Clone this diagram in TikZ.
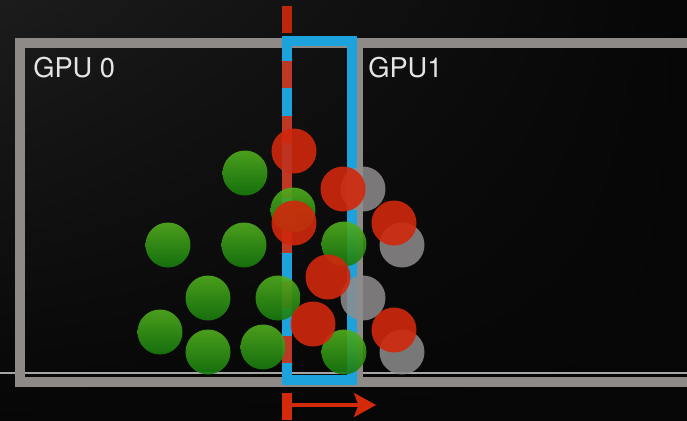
\documentclass[tikz,border=0pt]{standalone}
\usepackage{fontspec}
\setmainfont{TeX Gyre Heros}
\usetikzlibrary{arrows.meta,shadings}
\definecolor{bgdark}{HTML}{060606}
\definecolor{bglight}{HTML}{1C1C1C}
\definecolor{framegray}{HTML}{8E8A88}
\definecolor{thingray}{HTML}{A8A6A4}
\definecolor{haloblue}{HTML}{1CA2DC}
\definecolor{cutred}{HTML}{D42A0C}
\definecolor{greentop}{HTML}{52AE1E}
\definecolor{greenbot}{HTML}{177A0E}
\definecolor{ballred}{HTML}{D0280C}
\definecolor{ballgray}{HTML}{8E8C8C}
\definecolor{labeltext}{HTML}{E4E4E4}
\tikzset{
  ball/.style={circle,minimum size=0.9cm,inner sep=0pt,fill opacity=0.9},
  greenball/.style={ball,top color=greentop,bottom color=greenbot},
  redball/.style={ball,fill=ballred},
  grayball/.style={ball,fill=ballgray,fill opacity=0.85},
  gpulabel/.style={anchor=base west,inner sep=0pt,text=labeltext,font=\fontsize{15.5}{18}\selectfont}
}
\begin{document}
\begin{tikzpicture}[x=0.02cm,y=-0.02cm,>={Stealth[length=12.5pt,width=13.6pt,inset=2.5pt]}]
  \useasboundingbox (0,0) rectangle (687,420);
  % background
  \shade[upper left=bglight,upper right=bgdark,lower left=bgdark,lower right=bgdark]
    (0,0) rectangle (687,420);
  % GPU domains
  \draw[thingray,line width=1.2pt] (0,373) -- (687,373);
  \draw[framegray,line width=5.4pt] (687,43) -- (20,43) -- (20,382) -- (687,382);
  \draw[framegray,line width=3.4pt] (360,43) -- (360,382);
  \node[gpulabel] (gpu0) at (33,77) {GPU 0};
  \node[gpulabel] (gpu1) at (368,77) {GPU1};
  % halo region
  \draw[haloblue,line width=5.6pt] (287,41) rectangle (352,380);
  \draw[cutred,line width=5.4pt,opacity=0.88,dash pattern=on 15.3pt off 16pt]
    (287,6) -- (287,368);
  % particles
  \foreach \p [count=\i] in {(245,173),(168,245),(244,245),(293,210),(344,244),
      (208,298),(278,298),(160,332),(208,352),(263,347),(344,352)}
    \node[greenball] (g\i) at \p {};
  \foreach \p [count=\i] in {(363,189),(402,245),(363,298),(402,352)}
    \node[grayball] (h\i) at \p {};
  \foreach \p [count=\i] in {(294,151),(343,189),(294,223),(394,223),
      (328,277),(313,324),(394,330)}
    \node[redball] (r\i) at \p {};
  % shift direction
  \coordinate (tickTop) at (287,393);
  \coordinate (tickBot) at (287,420);
  \coordinate (arrowFrom) at (287,405);
  \coordinate (arrowTo) at (376,405);
  \draw[cutred,line width=5.4pt] (tickTop) -- (tickBot);
  \draw[->,cutred,line width=2.2pt] (arrowFrom) -- (arrowTo);
\end{tikzpicture}
\end{document}
